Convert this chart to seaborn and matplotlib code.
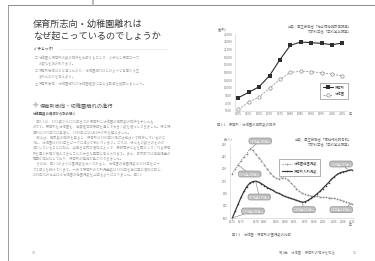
import matplotlib
matplotlib.use("Agg")
import matplotlib.pyplot as plt
from matplotlib.lines import Line2D
import numpy as np
import pandas as pd
import seaborn as sns

sns.set_theme(style="white")
plt.rcParams['font.family'] = ['Noto Sans CJK JP', 'DejaVu Sans']

# ---------------- data ----------------
# Fig 1-1: number of facilities
fac_years = [1955, 1960, 1965, 1970, 1975, 1980, 1985, 1990, 1995, 2000, 2005]
fac_nursery = [8390, 9780, 11260, 14130, 18300, 22040, 22910, 22740, 22560, 22220, 22650]
fac_kinder = [5350, 7260, 8570, 10830, 13170, 15000, 15260, 15170, 14910, 14570, 14040]
fac_yticks = [5000, 7000, 9000, 11000, 13000, 15000, 17000, 19000, 21000, 23000, 25000]

# Fig 1-2: number of children (万人)
kids_years = list(range(1970, 2012))
kids_kinder = [190, 200, 208, 217, 224, 231, 240, 238, 230, 223,
               216, 208, 200, 192, 185, 181, 180, 182, 181, 178,
               172, 166, 160, 154, 150, 148, 146, 145, 144, 144,
               143, 142, 142, 141, 140, 140, 138, 137, 135, 133,
               131, 129]
kids_nursery = [100, 114, 128, 142, 154, 164, 171, 174, 175, 173,
                170, 166, 162, 159, 156, 152, 150, 147, 144, 142,
                140, 138, 136, 134, 132, 133, 136, 140, 144, 149,
                154, 160, 166, 172, 179, 184, 189, 192, 194, 195,
                197, 198]
kids_xticks = [1970, 1973, 1978, 1981, 1985, 1988, 1991, 1995, 1998, 2001, 2005, 2008, 2011]
kids_yticks = [100, 125, 150, 175, 200, 225, 250]

W, H = 375, 261
fig = plt.figure(figsize=(W / 100, H / 100), dpi=100)
fig.patch.set_facecolor('white')


def fx(px):
    return px / W


def fy(py):
    return 1 - py / H


def ftext(x, y, s, size, color, **kw):
    fig.text(fx(x), fy(y), s, fontsize=size, color=color, va='center', **kw)


# ---------------- page frame ----------------
fig.add_artist(Line2D([fx(8), fx(375)], [fy(4.5), fy(4.5)], color='#8c8c8c', lw=0.7))
fig.add_artist(Line2D([fx(8), fx(8)], [fy(4.5), fy(261)], color='#9a9a9a', lw=0.7))
fig.add_artist(Line2D([fx(93), fx(93)], [fy(0), fy(4.5)], color='#bbbbbb', lw=1.5))

# ---------------- left page ----------------
ftext(33, 24, "保育所志向・幼稚園離れは", 6.6, '#3c3c3c')
ftext(33, 36.5, "なぜ起こっているのでしょうか", 6.6, '#3c3c3c')

ftext(34, 49, "✓ チェック!", 2.6, '#555555', fontweight='bold')
fig.add_artist(Line2D([fx(60), fx(168)], [fy(49), fy(49)], color='#c4c4c4', lw=0.4, ls=(0, (1, 1))))

bullets = [
    ["幼稚園と保育所の数の推移を比較することで、少子化と保育ニーズ", "の変化を読み取ります。"],
    ["保育所志向はなぜ進んだのか、幼稚園離れはどのような背景から生", "まれたのかを考えます。"],
    ["保育所志向・幼稚園離れが幼稚園経営に与える影響を確認しましょう。"],
]
by = [[58, 63.3], [71, 76.3], [84.5]]
for lines, ys in zip(bullets, by):
    ftext(35, ys[0], "□", 2.3, '#b0b0b0')
    for s, y in zip(lines, ys):
        ftext(38.5, y, s, 2.4, '#aaaaaa')

ftext(32, 106, "✦", 6.5, '#c0c0c0')
ftext(40, 106, "保育所志向・幼稚園離れの進行", 3.8, '#555555')
ftext(33, 114, "幼稚園数の増減から読み解く", 2.4, '#666666', fontweight='bold')

paras = [
    "図1-1は、1955年から2005年までの保育所と幼稚園の施設数の推移を示したものです。保育所も幼稚園も、高度経済成長期を通じて大きく数を増やしてきました。特に保育所は1970年代に急増し、1980年には2万2千か所を超えました。",
    "例えば、施設数の推移を見ると、保育所は1980年以降ほぼ横ばいで推移しているのに対し、幼稚園は1985年をピークに減少が続いています。これは、子どもの数そのものが減少していることに加え、共働き世帯の増加によって、長時間子どもを預かってくれる保育所を選ぶ家庭が増えてきたことが大きな要因と考えられます。また、都市部では待機児童の問題が深刻化しており、保育所の整備が急がれてきました。",
    "その後、図1-2のように園児数を比べてみると、幼稚園の在園児数は1978年をピークに減少を続けています。一方で保育所の入所児童数は1994年を底に再び増加に転じ、2000年代の後半には幼稚園の在園児数を上回るようになりました。図1-2",
]
y = 122.0
for p in paras:
    s = "　" + p
    for i in range(0, len(s), 41):
        ftext(33, y, s[i:i + 41], 2.4, '#a8a8a8')
        y += 5.3

ftext(32, 253, "10", 2.6, '#999999')

# ---------------- chart 1 ----------------
x0, x1 = 1955 - 3.3 / 2.08, 1955 + (347 - 238.3) / 2.08
ax1 = fig.add_axes([fx(235), fy(110.7), fx(347) - fx(235), fy(34) - fy(110.7)])
df1 = pd.DataFrame({'年': fac_years, '保育所': fac_nursery, '幼稚園': fac_kinder})
sns.lineplot(data=df1, x='年', y='保育所', ax=ax1, color='#2e2e2e', lw=0.8,
             marker='s', markersize=2.3, markeredgewidth=0, label='保育所', clip_on=False)
sns.lineplot(data=df1, x='年', y='幼稚園', ax=ax1, color='#9a9a9a', lw=0.6,
             linestyle=(0, (2.5, 1.5)), marker='o', markersize=2.4, markerfacecolor='white',
             markeredgecolor='#8a8a8a', markeredgewidth=0.5, label='幼稚園', clip_on=False)
ax1.set_xlim(x0, x1)
ax1.set_ylim(5000, 25000)
ax1.set_xticks(fac_years)
ax1.set_xticklabels([str(v) for v in fac_years])
ax1.set_yticks(fac_yticks)
ax1.set_yticklabels([str(v) for v in fac_yticks])
ax1.set_xlabel('')
ax1.set_ylabel('')
ax1.tick_params(labelsize=2.3, colors='#777777', length=0, pad=1.2)
ax1.tick_params(axis='y', pad=2)
sns.despine(ax=ax1)
for sp in ('left', 'bottom'):
    ax1.spines[sp].set_color('#cccccc')
    ax1.spines[sp].set_linewidth(0.4)
ax1.set_facecolor('none')
leg = ax1.legend(loc='lower right', bbox_to_anchor=(1.02, 0.126), fontsize=2.4,
                 frameon=True, fancybox=False, edgecolor='#555555', handlelength=3,
                 borderpad=0.8, labelspacing=0.9, handletextpad=0.6)
leg.get_frame().set_linewidth(0.4)
for t in leg.get_texts():
    t.set_color('#555555')
ftext(352, 113.7, "年", 2.3, '#777777', ha='right')
ftext(222, 29, "(箇所)", 2.3, '#777777', ha='center')
ftext(352, 27, "出典：厚生労働省「社会福祉施設等調査」", 2.4, '#777777', ha='right')
ftext(352, 32.7, "文部科学省「学校基本調査」", 2.4, '#777777', ha='right')
ftext(217, 125, "図1-1　保育所・幼稚園の施設数の推移", 2.4, '#777777')

# ---------------- chart 2 ----------------
pxy = 8.75 / 3
ax2 = fig.add_axes([fx(230), fy(218), fx(354) - fx(230), fy(144.3) - fy(218)])
df2 = pd.DataFrame({'年': kids_years, '幼稚園在園児数': kids_kinder, '保育所入所児数': kids_nursery})
sns.lineplot(data=df2, x='年', y='幼稚園在園児数', ax=ax2, color='#8a8a8a', lw=0.6,
             linestyle=(0, (1.6, 1.2)), marker='s', markersize=1.1, markeredgewidth=0,
             label='幼稚園在園児数', clip_on=False)
sns.lineplot(data=df2, x='年', y='保育所入所児数', ax=ax2, color='#3a3a3a', lw=0.9,
             marker='o', markersize=1.1, markeredgewidth=0, label='保育所入所児数', clip_on=False)
ax2.set_xlim(1970 - 2.3 / pxy, 1970 + (354 - 232.3) / pxy)
ax2.set_ylim(100, 250)
ax2.set_xticks(kids_xticks)
ax2.set_xticklabels([str(v) for v in kids_xticks])
ax2.set_yticks(kids_yticks)
ax2.set_yticklabels([str(v) for v in kids_yticks])
ax2.set_xlabel('')
ax2.set_ylabel('')
ax2.tick_params(labelsize=2.2, colors='#777777', length=0, pad=1.2)
ax2.tick_params(axis='y', pad=2)
sns.despine(ax=ax2)
for sp in ('left', 'bottom'):
    ax2.spines[sp].set_color('#cccccc')
    ax2.spines[sp].set_linewidth(0.4)
ax2.set_facecolor('none')
leg2 = ax2.legend(loc='upper left', bbox_to_anchor=(0.385, 0.818), fontsize=2.4,
                  frameon=True, fancybox=False, edgecolor='#555555', handlelength=3,
                  borderpad=0.8, labelspacing=0.9, handletextpad=0.6)
leg2.get_frame().set_linewidth(0.4)
for t in leg2.get_texts():
    t.set_color('#555555')

series = {'k': kids_kinder, 'n': kids_nursery}
callouts = [  # (series, year, box centre in page pixels)
    ('k', 1976, (260.3, 141.0)),
    ('k', 1972, (249.7, 174.0)),
    ('n', 1978, (259.3, 197.0)),
    ('n', 1970, (253.0, 211.0)),
    ('n', 1994, (304.0, 209.7)),
    ('n', 2010, (341.0, 164.0)),
    ('k', 2011, (341.3, 209.7)),
]
for key, yr, (bx, byy) in callouts:
    val = series[key][kids_years.index(yr)]
    ax2.annotate(f"{yr}年 {val}万人", xy=(yr, val), xycoords='data',
                 xytext=(fx(bx), fy(byy)), textcoords='figure fraction',
                 ha='center', va='center', fontsize=2.1, color='white',
                 bbox=dict(boxstyle='round,pad=0.35,rounding_size=0.8', fc='#bdbdbd', ec='#8a8a8a', lw=0.4),
                 arrowprops=dict(arrowstyle='-', color='#777777', lw=0.4, shrinkA=0, shrinkB=0),
                 annotation_clip=False)

ftext(352, 224.5, "年", 2.2, '#777777', ha='right')
ftext(228, 139, "(万人)", 2.3, '#777777', ha='center')
ftext(352, 140, "出典：厚生労働省「福祉行政報告例」", 2.4, '#777777', ha='right')
ftext(352, 145, "文部科学省「学校基本調査」", 2.4, '#777777', ha='right')
ftext(232, 235, "図1-2　幼稚園・保育所の園児数の比較", 2.4, '#777777')

ftext(335, 252.7, "第1章　幼稚園・保育所の現状を知る", 2.4, '#888888', ha='right')
ftext(353, 252.7, "11", 2.6, '#888888')

fig.savefig("out.png", dpi=100)
